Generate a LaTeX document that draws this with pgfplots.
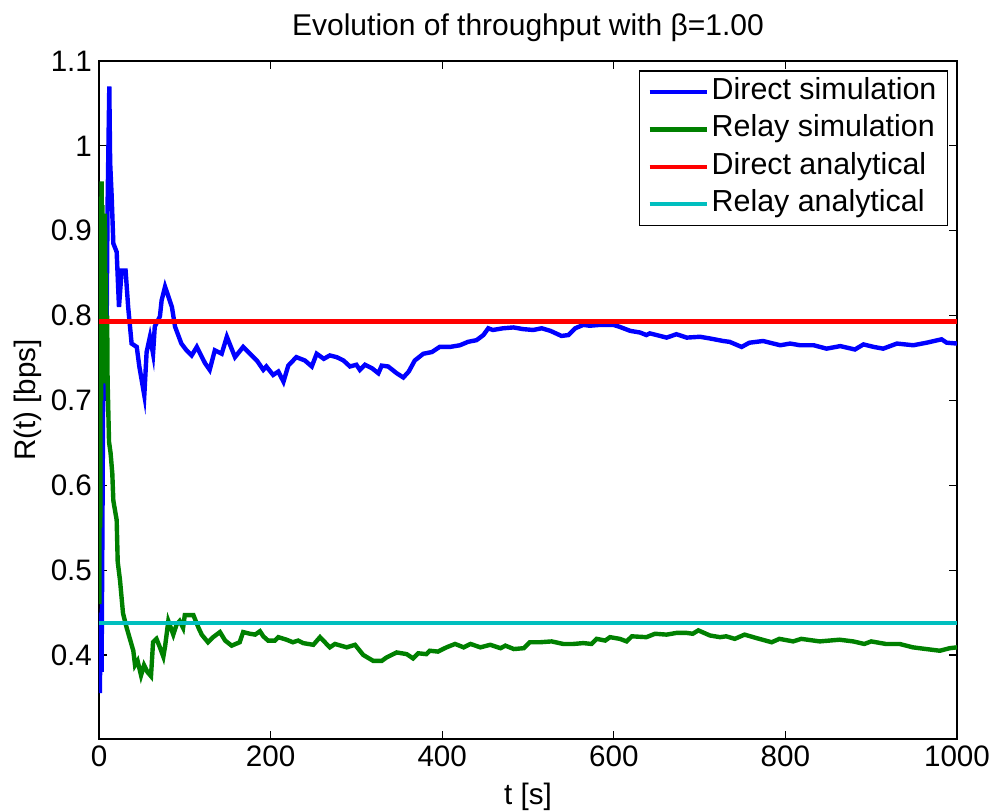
\documentclass[border=0pt]{standalone}
\usepackage{pgfplots}
\pgfplotsset{compat=1.18}
\usepackage{fontspec}
\setmainfont{Liberation Sans}
\definecolor{mblue}{rgb}{0,0,1}
\definecolor{mgreen}{rgb}{0,0.5,0}
\definecolor{mred}{rgb}{1,0,0}
\definecolor{mcyan}{rgb}{0,0.75,0.75}
\begin{document}
\begin{tikzpicture}
\path[use as bounding box] (-49.5pt,-36.5pt) rectangle (448.5pt,369.5pt);
\begin{axis}[
  scale only axis,
  width=429pt, height=339pt,
  xmin=0, xmax=1000, ymin=0.301, ymax=1.1,
  xtick={0,200,400,600,800,1000},
  ytick={0.4,0.5,0.6,0.7,0.8,0.9,1,1.1},
  yticklabels={0.4,0.5,0.6,0.7,0.8,0.9,1,1.1},
  xticklabels={0,200,400,600,800,1000},
  tick align=inside,
  major tick length=4pt,
  axis line style={line width=0.7pt},
  every tick/.style={black, line width=0.6pt},
  tick label style={font=\fontsize{14.8}{17}\selectfont},
  xlabel={t [s]}, ylabel={R(t) [bps]},
  label style={font=\fontsize{14.8}{17}\selectfont},
  xlabel style={at={(axis description cs:0.5,0)}, anchor=north, yshift=-18.5pt},
  ylabel style={at={(axis description cs:0,0.5)}, anchor=south, yshift=25pt},
  title={Evolution of throughput with β=1.00},
  title style={font=\fontsize{15}{17}\selectfont, yshift=0pt},
  legend style={at={(axis cs:989.5,1.089)}, anchor=north east, draw=black, line width=0.6pt,
    font=\fontsize{15.2}{17}\selectfont, inner xsep=4pt, inner ysep=1.75pt,
    row sep=1.2pt, fill=white,
    nodes={inner sep=1.5pt, text height=11pt, text depth=3.5pt}},
  legend cell align=left,
  legend image code/.code={\draw[#1, line width=2.2pt] (0cm,0cm) -- (28.5pt,0cm);},
  /pgf/number format/assume math mode=true,
]
\addplot[mblue, line width=2.2pt] coordinates {
(1,0.355)(2,0.45)(3,0.38)(4,0.55)(5,0.74)(6,0.70)(7,0.73)(8,0.72)(9,0.80)(10,0.93)(11,1.0)(12,1.07)(13,0.98)
(14.8,0.940)(16.7,0.885)(20.6,0.875)(23.3,0.810)(26.4,0.853)(31,0.853)(34,0.810)(38,0.767)(44,0.763)(47,0.74)
(52.8,0.706)(55.5,0.757)(59.4,0.775)(63,0.755)(65,0.787)(71,0.799)(73,0.818)(77,0.834)(81,0.822)(85,0.810)
(88.6,0.787)(96,0.767)(102,0.759)(108,0.753)(114,0.763)(123.5,0.744)(129,0.736)(135,0.759)(143,0.755)
(149,0.775)(158.5,0.751)(168,0.763)(176,0.755)(184,0.747)(191.5,0.736)(195,0.74)(203,0.730)(209,0.734)
(215,0.722)(220.6,0.741)(230,0.751)(240,0.747)(248,0.740)(253.7,0.755)(262,0.749)(269,0.753)(277,0.751)
(285,0.747)(292.5,0.740)(300,0.742)(304,0.736)(310,0.742)(318,0.738)(325.6,0.732)(329.5,0.741)(337,0.740)
(347,0.732)(354.7,0.727)(361,0.734)(368,0.747)(378,0.755)(388,0.757)(397,0.763)(409,0.763)(420.7,0.765)
(430,0.769)(440,0.771)(448,0.777)(453.7,0.785)(459,0.783)(471,0.785)(483,0.786)(494.5,0.784)(506,0.783)
(516,0.785)(526,0.782)(539,0.776)(547,0.777)(555,0.785)(564.5,0.789)(572,0.788)(584,0.789)(599.4,0.789)
(606,0.787)(619,0.782)(630.6,0.780)(638,0.777)(642,0.779)(650,0.777)(661.6,0.774)(673,0.778)(685,0.774)
(700.5,0.775)(712,0.773)(727.6,0.770)(735,0.769)(749,0.763)(758,0.768)(774,0.770)(794,0.765)(805.6,0.767)
(817,0.765)(833,0.765)(848,0.761)(864,0.764)(881,0.760)(891,0.766)(903,0.763)(914,0.761)(930,0.767)
(949,0.765)(964.6,0.768)(982,0.772)(988,0.768)(1000,0.767)
};
\addlegendentry{Direct simulation}
\addplot[mgreen, line width=2.2pt] coordinates {
(0.5,0.46)(1,0.80)(1.5,0.55)(2,0.94)(2.5,0.70)(3,0.958)(3.5,0.75)(4,0.93)(5,0.72)(5.5,0.88)(6,0.74)(7,0.92)
(7.5,0.76)(8,0.85)(9,0.73)(9.5,0.80)(10,0.724)(11.7,0.651)(13.5,0.638)(15.5,0.614)(16.7,0.582)(20.6,0.559)
(21.8,0.510)(24.5,0.488)(28,0.449)(32,0.433)(36,0.419)(40,0.405)(42,0.388)(45,0.393)(49,0.376)(52.5,0.388)
(56.4,0.380)(60.6,0.375)(63,0.415)(67,0.419)(71,0.409)(75,0.398)(77,0.410)(80.8,0.440)(86.6,0.424)(90.5,0.436)
(94,0.440)(98,0.432)(100,0.447)(106,0.447)(110,0.447)(116,0.432)(119.7,0.424)(127,0.415)(133,0.421)(141,0.427)
(147,0.417)(154.6,0.411)(164,0.415)(168,0.427)(176,0.425)(182,0.424)(187.6,0.428)(191.5,0.422)(197,0.417)
(205,0.417)(209,0.421)(218.6,0.418)(226,0.415)(232,0.417)(238,0.414)(249.8,0.412)(257.6,0.421)(269,0.409)
(275,0.413)(288.7,0.409)(298.4,0.412)(308,0.400)(319.7,0.393)(329.5,0.393)(335,0.397)(347,0.403)(358.6,0.401)
(366,0.396)(372,0.402)(381.6,0.401)(385.5,0.405)(395,0.404)(405,0.409)(415,0.413)(425,0.409)(433,0.413)
(444.5,0.409)(456,0.412)(468,0.408)(473.6,0.411)(483.5,0.407)(495,0.408)(502,0.415)(514,0.415)(527.6,0.416)
(541,0.413)(553,0.413)(564.5,0.414)(574,0.413)(580,0.419)(590,0.417)(595.6,0.421)(607,0.419)(615,0.416)
(621,0.422)(638,0.421)(648,0.425)(661.6,0.424)(673,0.426)(685,0.426)(692,0.425)(698.5,0.429)(712,0.423)
(723.8,0.421)(731,0.422)(741,0.419)(752.4,0.424)(766,0.420)(784,0.415)(793,0.419)(809,0.416)(818.5,0.419)
(840,0.416)(863,0.418)(879,0.416)(892,0.413)(900,0.416)(917,0.413)(933,0.413)(948.6,0.409)(964,0.407)
(980,0.405)(991.5,0.408)(1000,0.409)
};
\addlegendentry{Relay simulation}
\addplot[mred, line width=2.2pt] coordinates {(0,0.793)(1000,0.793)};
\addlegendentry{Direct analytical}
\addplot[mcyan, line width=2.2pt] coordinates {(0,0.438)(1000,0.438)};
\addlegendentry{Relay analytical}
\end{axis}
\end{tikzpicture}
\end{document}
